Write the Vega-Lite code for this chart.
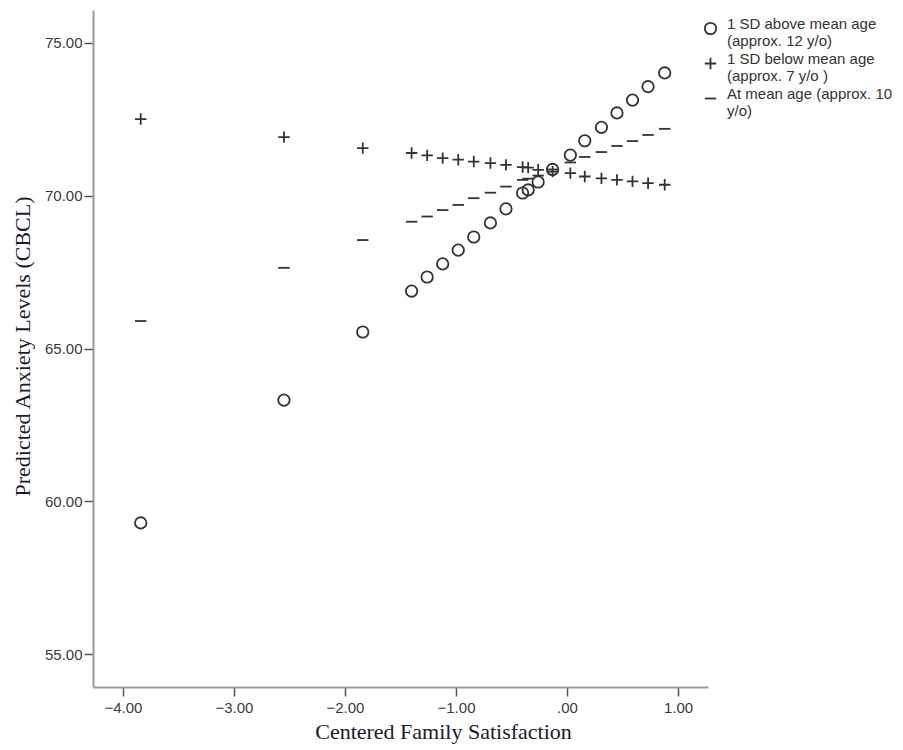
{
  "$schema": "https://vega.github.io/schema/vega-lite/v6.json",
  "autosize": {"type": "none"},
  "padding": {"left": 93, "top": 10, "right": 195, "bottom": 63},
  "width": 615,
  "height": 677,
  "background": "white",
  "config": {"view": {"stroke": null}, "font": "Liberation Sans"},
  "data": {
    "values": [
      {"g": "1 SD above mean age|(approx. 12 y/o)", "x": -3.84, "y": 59.29},
      {"g": "1 SD above mean age|(approx. 12 y/o)", "x": -2.55, "y": 63.31},
      {"g": "1 SD above mean age|(approx. 12 y/o)", "x": -1.84, "y": 65.54},
      {"g": "1 SD above mean age|(approx. 12 y/o)", "x": -1.40, "y": 66.88},
      {"g": "1 SD above mean age|(approx. 12 y/o)", "x": -1.26, "y": 67.34},
      {"g": "1 SD above mean age|(approx. 12 y/o)", "x": -1.12, "y": 67.77},
      {"g": "1 SD above mean age|(approx. 12 y/o)", "x": -0.98, "y": 68.22},
      {"g": "1 SD above mean age|(approx. 12 y/o)", "x": -0.84, "y": 68.65},
      {"g": "1 SD above mean age|(approx. 12 y/o)", "x": -0.69, "y": 69.11},
      {"g": "1 SD above mean age|(approx. 12 y/o)", "x": -0.55, "y": 69.57},
      {"g": "1 SD above mean age|(approx. 12 y/o)", "x": -0.40, "y": 70.09},
      {"g": "1 SD above mean age|(approx. 12 y/o)", "x": -0.35, "y": 70.19},
      {"g": "1 SD above mean age|(approx. 12 y/o)", "x": -0.26, "y": 70.45},
      {"g": "1 SD above mean age|(approx. 12 y/o)", "x": -0.13, "y": 70.86},
      {"g": "1 SD above mean age|(approx. 12 y/o)", "x": 0.03, "y": 71.33},
      {"g": "1 SD above mean age|(approx. 12 y/o)", "x": 0.16, "y": 71.80},
      {"g": "1 SD above mean age|(approx. 12 y/o)", "x": 0.31, "y": 72.24},
      {"g": "1 SD above mean age|(approx. 12 y/o)", "x": 0.45, "y": 72.71},
      {"g": "1 SD above mean age|(approx. 12 y/o)", "x": 0.59, "y": 73.13},
      {"g": "1 SD above mean age|(approx. 12 y/o)", "x": 0.73, "y": 73.57},
      {"g": "1 SD above mean age|(approx. 12 y/o)", "x": 0.88, "y": 74.02},
      {"g": "1 SD below mean age|(approx. 7 y/o )", "x": -3.84, "y": 72.51},
      {"g": "1 SD below mean age|(approx. 7 y/o )", "x": -2.55, "y": 71.92},
      {"g": "1 SD below mean age|(approx. 7 y/o )", "x": -1.84, "y": 71.56},
      {"g": "1 SD below mean age|(approx. 7 y/o )", "x": -1.40, "y": 71.40},
      {"g": "1 SD below mean age|(approx. 7 y/o )", "x": -1.26, "y": 71.32},
      {"g": "1 SD below mean age|(approx. 7 y/o )", "x": -1.12, "y": 71.23},
      {"g": "1 SD below mean age|(approx. 7 y/o )", "x": -0.98, "y": 71.18},
      {"g": "1 SD below mean age|(approx. 7 y/o )", "x": -0.84, "y": 71.12},
      {"g": "1 SD below mean age|(approx. 7 y/o )", "x": -0.69, "y": 71.07},
      {"g": "1 SD below mean age|(approx. 7 y/o )", "x": -0.55, "y": 71.01},
      {"g": "1 SD below mean age|(approx. 7 y/o )", "x": -0.40, "y": 70.94},
      {"g": "1 SD below mean age|(approx. 7 y/o )", "x": -0.35, "y": 70.92},
      {"g": "1 SD below mean age|(approx. 7 y/o )", "x": -0.26, "y": 70.85},
      {"g": "1 SD below mean age|(approx. 7 y/o )", "x": -0.13, "y": 70.79},
      {"g": "1 SD below mean age|(approx. 7 y/o )", "x": 0.03, "y": 70.74},
      {"g": "1 SD below mean age|(approx. 7 y/o )", "x": 0.16, "y": 70.63},
      {"g": "1 SD below mean age|(approx. 7 y/o )", "x": 0.31, "y": 70.57},
      {"g": "1 SD below mean age|(approx. 7 y/o )", "x": 0.45, "y": 70.52},
      {"g": "1 SD below mean age|(approx. 7 y/o )", "x": 0.59, "y": 70.47},
      {"g": "1 SD below mean age|(approx. 7 y/o )", "x": 0.73, "y": 70.41},
      {"g": "1 SD below mean age|(approx. 7 y/o )", "x": 0.88, "y": 70.36},
      {"g": "At mean age (approx. 10|y/o)", "x": -3.84, "y": 65.90},
      {"g": "At mean age (approx. 10|y/o)", "x": -2.55, "y": 67.64},
      {"g": "At mean age (approx. 10|y/o)", "x": -1.84, "y": 68.55},
      {"g": "At mean age (approx. 10|y/o)", "x": -1.40, "y": 69.15},
      {"g": "At mean age (approx. 10|y/o)", "x": -1.26, "y": 69.32},
      {"g": "At mean age (approx. 10|y/o)", "x": -1.12, "y": 69.53},
      {"g": "At mean age (approx. 10|y/o)", "x": -0.98, "y": 69.70},
      {"g": "At mean age (approx. 10|y/o)", "x": -0.84, "y": 69.92},
      {"g": "At mean age (approx. 10|y/o)", "x": -0.69, "y": 70.10},
      {"g": "At mean age (approx. 10|y/o)", "x": -0.55, "y": 70.30},
      {"g": "At mean age (approx. 10|y/o)", "x": -0.40, "y": 70.52},
      {"g": "At mean age (approx. 10|y/o)", "x": -0.35, "y": 70.56},
      {"g": "At mean age (approx. 10|y/o)", "x": -0.26, "y": 70.66},
      {"g": "At mean age (approx. 10|y/o)", "x": -0.13, "y": 70.86},
      {"g": "At mean age (approx. 10|y/o)", "x": 0.03, "y": 71.09},
      {"g": "At mean age (approx. 10|y/o)", "x": 0.16, "y": 71.27},
      {"g": "At mean age (approx. 10|y/o)", "x": 0.31, "y": 71.43},
      {"g": "At mean age (approx. 10|y/o)", "x": 0.45, "y": 71.63},
      {"g": "At mean age (approx. 10|y/o)", "x": 0.59, "y": 71.79},
      {"g": "At mean age (approx. 10|y/o)", "x": 0.73, "y": 71.99},
      {"g": "At mean age (approx. 10|y/o)", "x": 0.88, "y": 72.19}
    ]
  },
  "mark": {"type": "point", "filled": false, "size": 130, "strokeWidth": 1.8, "opacity": 1},
  "encoding": {
    "x": {
      "field": "x", "type": "quantitative",
      "scale": {"domain": [-4.27, 1.27], "nice": false, "zero": false},
      "axis": {
        "values": [-4, -3, -2, -1, 0, 1],
        "labelExpr": "datum.value == 0 ? '.00' : format(datum.value, '.2f')",
        "grid": false,
        "title": "Centered Family Satisfaction",
        "titleFont": "Liberation Serif", "titleFontSize": 22, "titleFontWeight": "normal", "titleColor": "#1a1a2e",
        "titleX": 350, "titleY": 34, "titleBaseline": "top", "titleAnchor": null,
        "domainColor": "#999", "domainWidth": 2, "tickColor": "#555", "tickWidth": 1.5, "tickSize": 9,
        "labelFont": "Liberation Sans", "labelFontSize": 15, "labelColor": "#3a3a3a", "labelPadding": 4
      }
    },
    "y": {
      "field": "y", "type": "quantitative",
      "scale": {"domain": [53.92, 76.08], "nice": false, "zero": false},
      "axis": {
        "values": [55, 60, 65, 70, 75],
        "format": ".2f",
        "grid": false,
        "title": "Predicted Anxiety Levels (CBCL)",
        "titleFont": "Liberation Serif", "titleFontSize": 22, "titleFontWeight": "normal", "titleColor": "#1a1a2e",
        "titleX": -71, "titleY": 336, "titleBaseline": "middle", "titleAngle": -90, "titleAnchor": null,
        "domainColor": "#999", "domainWidth": 2, "tickColor": "#555", "tickWidth": 1.5, "tickSize": 9,
        "labelFont": "Liberation Sans", "labelFontSize": 15, "labelColor": "#3a3a3a", "labelPadding": 2
      }
    },
    "shape": {
      "field": "g", "type": "nominal",
      "scale": {"range": ["circle", "M-1,0H1M0,-1V1", "M-1,0H1"]},
      "legend": {
        "title": null,
        "orient": "none", "legendX": 610, "legendY": 11,
        "padding": 0,
        "labelExpr": "split(datum.label, '|')",
        "labelFont": "Liberation Sans", "labelFontSize": 15, "labelColor": "#333",
        "labelBaseline": "alphabetic", "labelOffset": 9, "labelLimit": 300,
        "symbolSize": 130, "symbolStrokeWidth": 1.8, "symbolStrokeColor": "#333", "symbolFillColor": "transparent",
        "symbolType": "circle",
        "rowPadding": 2
      }
    },
    "color": {"value": "#333"}
  }
}
